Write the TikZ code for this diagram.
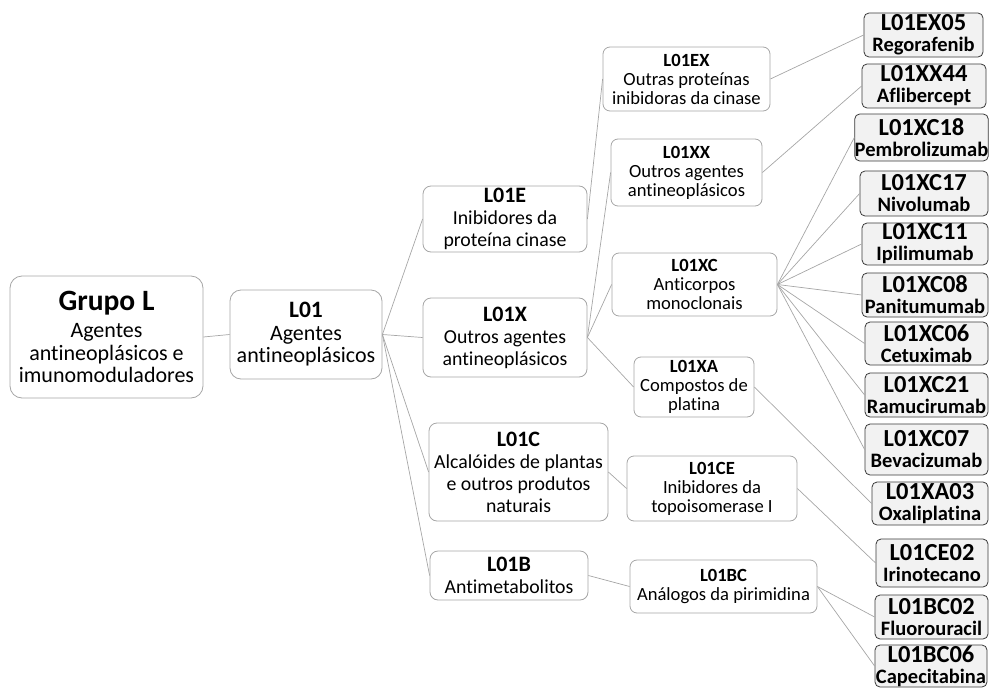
\documentclass[tikz,border=0pt]{standalone}
\usepackage{fontspec}
\setmainfont{Carlito}[Ligatures=NoCommon]
\definecolor{boxgray}{HTML}{A6A6A6}
\definecolor{drugfill}{HTML}{F2F2F2}
\definecolor{drugline}{HTML}{3A3A3A}
\newcommand{\atctitle}[2]{{\fontsize{#1}{#1}\selectfont\bfseries #2}}

\begin{document}
\begin{tikzpicture}[x=1pt, y=-1pt,
    box/.style={draw=boxgray, line width=0.8pt, fill=white, align=center, inner sep=0pt},
    lvone/.style={box, rounded corners=11pt, font=\fontsize{22}{22.5}\selectfont},
    lvtwo/.style={box, rounded corners=8pt, font=\fontsize{19.8}{22}\selectfont},
    lvthree/.style={box, rounded corners=7pt, font=\fontsize{18.6}{19}\selectfont},
    drug/.style={draw=drugline, line width=0.8pt, fill=drugfill, rounded corners=5pt, align=center, inner sep=0pt, font=\fontsize{20.5}{21}\selectfont\bfseries},
    link/.style={draw=boxgray, line width=0.7pt}]
    \useasboundingbox (0,0) rectangle (991,688);

    \node[lvone, rounded corners=12pt, minimum width=193pt, minimum height=122pt] (grupo) at (106.5,337) {\atctitle{29.5}{Grupo L}\\[5pt]Agentes\\antineoplásicos e\\imunomoduladores};
    \node[lvone, minimum width=152pt, minimum height=89pt] (l01) at (306,334.5) {\atctitle{23.5}{L01}\\Agentes\\antineoplásicos};

    \node[lvtwo, minimum width=164pt, minimum height=66pt] (l01e) at (505,219) {\atctitle{22}{L01E}\\Inibidores da\\proteína cinase};
    \node[lvtwo, minimum width=164pt, minimum height=79pt] (l01x) at (505,337.5) {\atctitle{22}{L01X}\\Outros agentes\\antineoplásicos};
    \node[lvtwo, minimum width=179pt, minimum height=98pt] (l01c) at (518.5,472) {\atctitle{22}{L01C}\\Alcalóides de plantas\\e outros produtos\\naturais};
    \node[lvtwo, minimum width=158pt, minimum height=49pt] (l01b) at (509,575.5) {\atctitle{22}{L01B}\\Antimetabolitos};

    \node[lvthree, minimum width=167pt, minimum height=64pt] (l01ex) at (686.5,79) {\atctitle{18.6}{L01EX}\\Outras proteínas\\inibidoras da cinase};
    \node[lvthree, minimum width=151pt, minimum height=67pt] (l01xx) at (686.5,172.5) {\atctitle{18.6}{L01XX}\\Outros agentes\\antineoplásicos};
    \node[lvthree, minimum width=165pt, minimum height=63pt] (l01xc) at (694.5,284.5) {\atctitle{18.6}{L01XC}\\Anticorpos\\monoclonais};
    \node[lvthree, minimum width=120pt, minimum height=60pt] (l01xa) at (694,387) {\atctitle{18.6}{L01XA}\\Compostos de\\platina};
    \node[lvthree, minimum width=170pt, minimum height=65pt] (l01ce) at (712,488.5) {\atctitle{18.6}{L01CE}\\Inibidores da\\topoisomerase I};
    \node[lvthree, minimum width=187pt, minimum height=53pt] (l01bc) at (723.5,586.5) {\atctitle{18.6}{L01BC}\\Análogos da pirimidina};

    \node[drug, minimum width=119pt, minimum height=44pt] (ex05) at (923.5,35) {\atctitle{24.5}{L01EX05}\\Regorafenib};
    \node[drug, minimum width=124pt, minimum height=44pt] (xx44) at (924,86) {\atctitle{24.5}{L01XX44}\\Aflibercept};
    \node[drug, minimum width=133pt, minimum height=47pt] (xc18) at (921.5,137.5) {\atctitle{24.5}{L01XC18}\\Pembrolizumab};
    \node[drug, minimum width=128pt, minimum height=45pt] (xc17) at (924,193.5) {\atctitle{24.5}{L01XC17}\\Nivolumab};
    \node[drug, minimum width=126pt, minimum height=42pt] (xc11) at (925,244) {\atctitle{24.5}{L01XC11}\\Ipilimumab};
    \node[drug, minimum width=126pt, minimum height=44pt] (xc08) at (925,295) {\atctitle{24.5}{L01XC08}\\Panitumumab};
    \node[drug, minimum width=123pt, minimum height=43pt] (xc06) at (926.5,343.5) {\atctitle{24.5}{L01XC06}\\Cetuximab};
    \node[drug, minimum width=123pt, minimum height=44pt] (xc21) at (926.5,395) {\atctitle{24.5}{L01XC21}\\Ramucirumab};
    \node[drug, minimum width=123pt, minimum height=51pt] (xc07) at (926.5,449.5) {\atctitle{24.5}{L01XC07}\\Bevacizumab};
    \node[drug, minimum width=116pt, minimum height=43pt] (xa03) at (930,503.5) {\atctitle{24.5}{L01XA03}\\Oxaliplatina};
    \node[drug, minimum width=112pt, minimum height=48pt] (ce02) at (932,563) {\atctitle{24.5}{L01CE02}\\Irinotecano};
    \node[drug, minimum width=113pt, minimum height=44pt] (bc02) at (931.5,617) {\atctitle{24.5}{L01BC02}\\Fluorouracil};
    \node[drug, minimum width=112pt, minimum height=42pt] (bc06) at (931,666) {\atctitle{24.5}{L01BC06}\\Capecitabina};

    \draw[link] (grupo.east) -- (l01.west);
    \foreach \c in {l01e, l01x, l01c, l01b} \draw[link] (l01.east) -- (\c.west);
    \draw[link] (l01e.east) -- (l01ex.west);
    \foreach \c in {l01xx, l01xc, l01xa} \draw[link] (l01x.east) -- (\c.west);
    \draw[link] (l01c.east) -- (l01ce.west);
    \draw[link] (l01b.east) -- (l01bc.west);
    \draw[link] (l01ex.east) -- (ex05.west);
    \draw[link] (l01xx.east) -- (xx44.west);
    \foreach \c in {xc18, xc17, xc11, xc08, xc06, xc21, xc07} \draw[link] (l01xc.east) -- (\c.west);
    \draw[link] (l01xa.east) -- (xa03.west);
    \draw[link] (l01ce.east) -- (ce02.west);
    \foreach \c in {bc02, bc06} \draw[link] (l01bc.east) -- (\c.west);
\end{tikzpicture}
\end{document}
